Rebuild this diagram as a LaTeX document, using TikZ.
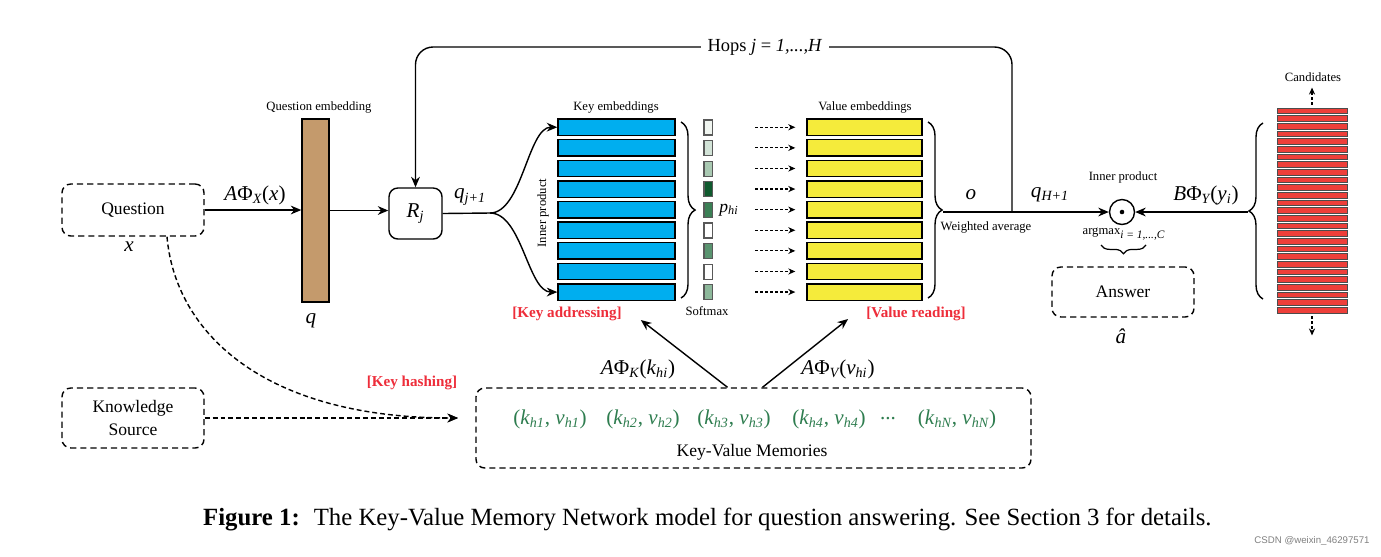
\documentclass[tikz,border=0pt]{standalone}
\usepackage{fontspec}
\setmainfont{Liberation Serif}
\newfontfamily\wmfont{Liberation Sans}
\usetikzlibrary{arrows.meta,decorations.pathreplacing,fit,calc}
\definecolor{qbrown}{HTML}{C49A6C}
\definecolor{keyblue}{HTML}{00AEEF}
\definecolor{valyellow}{HTML}{F5EB3B}
\definecolor{candred}{HTML}{EE3F3A}
\definecolor{labred}{HTML}{EE2D3A}
\definecolor{memgreen}{HTML}{2E7D4F}
\definecolor{smA}{HTML}{F0F5F0}
\definecolor{smB}{HTML}{D2E3D7}
\definecolor{smC}{HTML}{A9C9B2}
\definecolor{smD}{HTML}{0F5A2E}
\definecolor{smE}{HTML}{3B7F55}
\definecolor{smF}{HTML}{FFFFFF}
\definecolor{smG}{HTML}{5A9470}
\definecolor{smH}{HTML}{FFFFFF}
\definecolor{smI}{HTML}{8DB89B}
\newcommand{\mysub}[1]{\textsubscript{\itshape #1}}
\begin{document}
\begin{tikzpicture}[x=0.02cm,y=-0.02cm,
  dbox/.style={draw, line width=0.8pt, rounded corners=5pt, inner sep=0pt, dash pattern=on 3.5pt off 2.3pt},
  nrm/.style={font=\fontsize{10}{12}\selectfont},
  sml/.style={font=\fontsize{7.2}{8.5}\selectfont},
  mth/.style={font=\fontsize{12}{14}\selectfont},
  redl/.style={font=\fontsize{8.6}{10}\selectfont\bfseries, text=labred},
  arr/.style={line width=0.8pt, -{Stealth[length=6pt,width=5pt]}},
  darr/.style={line width=0.8pt, dash pattern=on 2.8pt off 1.7pt, -{Stealth[length=6pt,width=5pt]}},
  sdarr/.style={line width=0.7pt, dash pattern=on 1.6pt off 1.2pt, -{Stealth[length=4pt,width=3.5pt]}},
  rowbox/.style={draw, line width=0.8pt, inner sep=0pt},
  brc/.style={decorate, decoration={brace, amplitude=8pt}, line width=0.8pt},
]
\useasboundingbox (0,0) rectangle (1381,556);
\fill[white] (0,0) rectangle (1381,556);

% Question
\node[dbox, fit={(62,184) (204,236)}, label={[nrm]center:Question}] (question) {};
\node[mth] (xlab) at (129,247) {\textit{x}};
% Question embedding
\node[rowbox, fill=qbrown, fit={(302,119) (329,302)}] (qbar) {};
\node[sml] (qelab) at (319,107) {Question embedding};
\node[mth] (qlab) at (311,321) {\textit{q}};
\draw[arr] (question.east) -- (question.east -| qbar.west);
\node[mth] (axlab) at (255,195) {\textit{A}Φ\mysub{X}(\textit{x})};
% R_j
\node[draw, rounded corners=5pt, line width=0.8pt, inner sep=0pt, fit={(389,188) (442,239)}, label={[mth]center:\textit{R}\mysub{j}}] (Rj) {};
\draw[arr] (qbar.east) -- (qbar.east -| Rj.west);

% Key / value embeddings
\foreach \i in {1,...,9} {
  \pgfmathsetmacro\yt{119+20.6*(\i-1)}
  \node[rowbox, fill=keyblue, fit={(558,\yt) (675,\yt+16.5)}] (k\i) {};
  \node[rowbox, fill=valyellow, fit={(807,\yt) (922,\yt+16.5)}] (v\i) {};
  \draw[sdarr] ($(v\i.west)+(-51,0)$) -- ($(v\i.west)+(-11,0)$);
}
\foreach \i/\c in {1/smA,2/smB,3/smC,4/smD,5/smE,6/smF,7/smG,8/smH,9/smI} {
  \pgfmathsetmacro\yt{120+20.6*(\i-1)}
  \node[draw=gray!70!black, line width=0.6pt, fill=\c, inner sep=0pt, fit={(704,\yt) (712.5,\yt+15)}] (s\i) {};
}
\node[sml] (kelab) at (616,107) {Key embeddings};
\node[sml] (velab) at (865,107) {Value embeddings};
\node[sml] (smlab) at (707,311) {Softmax};
\node[font=\fontsize{10}{12}\selectfont] (phi) at (729,210) {\textit{p}\mysub{hi}};

% q_{j+1} split
\coordinate (split) at (490,213);
\draw[line width=0.8pt] (Rj.east) -- (split);
\draw[arr] (split) .. controls (522,213) and (528,127) .. (k1.west);
\draw[arr] (split) .. controls (522,213) and (528,292) .. (k9.west);
\node[mth] (qj) at (470,197) {\textit{q}\mysub{j+1}};
\node[sml, rotate=90] (iplab) at (543,213) {Inner product};

% braces
\draw[brc] (681,122) -- (681,298);
\draw[brc] (928,122) -- (928,298);
\coordinate (vbt) at (943,212);
\coordinate (hj) at (1012,212);
\coordinate (hopstop) at (765,47);

% output
\node[circle, draw, line width=0.8pt, minimum size=0.5cm, inner sep=0pt] (dot) at (1122,212) {};
\fill (dot.center) circle (1.3pt);
\draw[arr] (vbt) -- (dot.west);
\draw[line width=0.8pt, rounded corners=10pt, -{Stealth[length=6pt,width=5pt]}] (hj) -- (hj |- hopstop) -- (Rj.north |- hopstop) -- (Rj.north);
\node[fill=white, inner xsep=4pt, inner ysep=1pt, font=\fontsize{10.5}{12}\selectfont] (hops) at (hopstop) {Hops \textit{j} = \textit{1,...,H}};
\node[mth] (olab) at (971,195) {\textit{o}};
\node[sml] (walab) at (986,227) {Weighted average};
\node[mth] (qh) at (1050,195) {\textit{q}\mysub{H+1}};
\node[sml] (ip2) at (1123,177) {Inner product};
\node[sml] (argm) at (1124,234) {argmax\textsubscript{\itshape\fontsize{6.5}{7}\selectfont i = 1,...,C}};
\draw[decorate, decoration={brace, amplitude=5pt}, line width=0.7pt] (1146,245) -- (1101,245);

% Answer
\node[dbox, fit={(1052,267) (1194,317)}, label={[nrm]center:Answer}] (answer) {};
\node[mth] (ahat) at (1121,336) {\textit{â}};

% Candidates
\foreach \i in {0,...,26} {
  \pgfmathsetmacro\yt{108+7.67*\i}
  \node[draw=gray!60!black, line width=0.5pt, fill=candred, inner sep=0pt, fit={(1277,\yt) (1347,\yt+5.6)}] (c\i) {};
}
\draw[sdarr] ($(c0.north)+(0,-3)$) -- ($(c0.north)+(0,-20)$);
\draw[sdarr] ($(c26.south)+(0,3)$) -- ($(c26.south)+(0,22)$);
\node[sml] (candlab) at (1313,77) {Candidates};
\draw[brc] (1263,299) -- (1263,123);
\coordinate (cbt) at (1248,212);
\draw[arr] (cbt) -- (dot.east);
\node[mth] (byl) at (1206,195) {\textit{B}Φ\mysub{Y}(\textit{y}\mysub{i})};

% labels red
\node[redl] (ka) at (567,314) {[Key addressing]};
\node[redl] (vr) at (916,314) {[Value reading]};
\node[redl] (kh) at (412,383) {[Key hashing]};

% Memories
\node[dbox, fit={(476,388) (1031,468)}] (mem) {};
\begin{scope}[every node/.style={mth, text=memgreen}]
\node (m1) at (550,419) {(\textit{k}\mysub{h1}, \textit{v}\mysub{h1})};
\node (m2) at (643,419) {(\textit{k}\mysub{h2}, \textit{v}\mysub{h2})};
\node (m3) at (734,419) {(\textit{k}\mysub{h3}, \textit{v}\mysub{h3})};
\node (m4) at (829,419) {(\textit{k}\mysub{h4}, \textit{v}\mysub{h4})};
\node (m5) at (888,419) {...};
\node (m6) at (957,419) {(\textit{k}\mysub{hN}, \textit{v}\mysub{hN})};
\end{scope}
\node[nrm] (kvm) at (752,452) {Key-Value Memories};
\draw[arr] ($(mem.north)+(-26,0)$) -- ($(ka.east)+(13,6)$);
\draw[arr] ($(mem.north)+(9,0)$) -- ($(vr.west)+(-12,5)$);
\node[mth] (akl) at (638,369) {\textit{A}Φ\mysub{K}(\textit{k}\mysub{hi})};
\node[mth] (avl) at (838,369) {\textit{A}Φ\mysub{V}(\textit{v}\mysub{hi})};

% Knowledge source
\node[dbox, fit={(62,388) (204,448)}, label={[nrm, align=center]center:Knowledge\\[1pt]Source}] (ks) {};
\coordinate (hashin) at (458,418);
\draw[darr] (ks.east) -- (hashin);
\draw[darr] ($(question.south)+(34,0)$) .. controls (175,330) and (260,418) .. (hashin);

% caption
\node[anchor=west, font=\fontsize{14.1}{16}\selectfont] (cap) at (197,519) {\textbf{Figure 1:}\hspace{8pt}The Key-Value Memory Network model for question answering. See Section 3 for details.};
\node[font=\wmfont\fontsize{5.5}{6}\selectfont, text=gray] (wm) at (1312,541) {CSDN @weixin\_46297571};
\end{tikzpicture}
\end{document}
